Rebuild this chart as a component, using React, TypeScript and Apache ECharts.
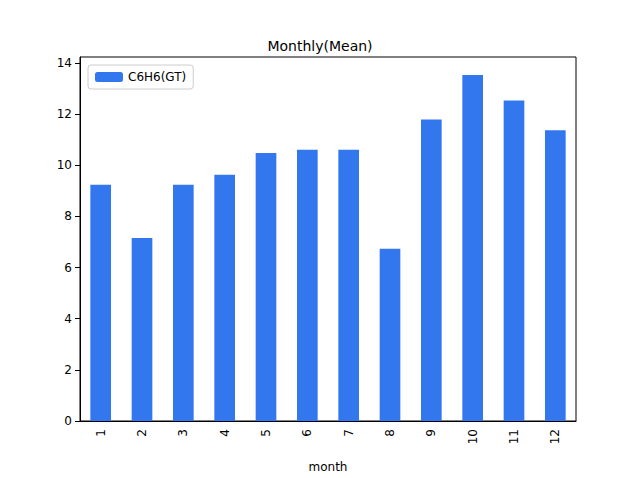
import React, { useEffect, useRef } from "react";
import * as echarts from "echarts";

const months = ["1","2","3","4","5","6","7","8","9","10","11","12"];
const c6h6 = [9.24, 7.15, 9.24, 9.63, 10.48, 10.6, 10.6, 6.73, 11.79, 13.53, 12.53, 11.37];

export default function App() {
  const ref = useRef<HTMLDivElement>(null);
  useEffect(() => {
    document.body.style.margin = "0";
    const chart = echarts.init(ref.current!, null, { renderer: "svg" });
    const font = "DejaVu Sans";
    chart.setOption({
      animation: false,
      textStyle: { fontFamily: font },
      title: { text: "Monthly(Mean)", left: "center", top: 34, textStyle: { fontFamily: font, fontSize: 14, fontWeight: "normal", color: "#000" } },
      legend: {
        left: 88, top: 65, data: ["C6H6(GT)"],
        itemWidth: 28, itemHeight: 10, borderColor: "#ccc", borderWidth: 1, borderRadius: 3,
        padding: [6, 7], textStyle: { fontFamily: font, fontSize: 12, color: "#000" },
      },
      grid: { left: 80, right: 64, top: 57, bottom: 53, show: true, borderColor: "#000", borderWidth: 1 },
      xAxis: {
        type: "category", data: months, name: "month", nameLocation: "middle", nameGap: 40,
        nameTextStyle: { fontFamily: font, fontSize: 12, color: "#000" },
        axisLine: { lineStyle: { color: "#000" } },
        axisTick: { alignWithLabel: true, lineStyle: { color: "#000" } },
        axisLabel: { rotate: 90, fontFamily: font, fontSize: 12, color: "#000" },
      },
      yAxis: {
        type: "value", min: 0, max: 14.23, interval: 2,
        axisLine: { show: true, lineStyle: { color: "#000" } },
        axisTick: { show: true, lineStyle: { color: "#000" } },
        splitLine: { show: false },
        axisLabel: { showMaxLabel: false, fontFamily: font, fontSize: 12, color: "#000" },
      },
      series: [{ name: "C6H6(GT)", type: "bar", data: c6h6, barWidth: "50%", itemStyle: { color: "#3377ee" } }],
    });
    return () => chart.dispose();
  }, []);
  return <div ref={ref} style={{ width: 640, height: 478 }} />;
}
